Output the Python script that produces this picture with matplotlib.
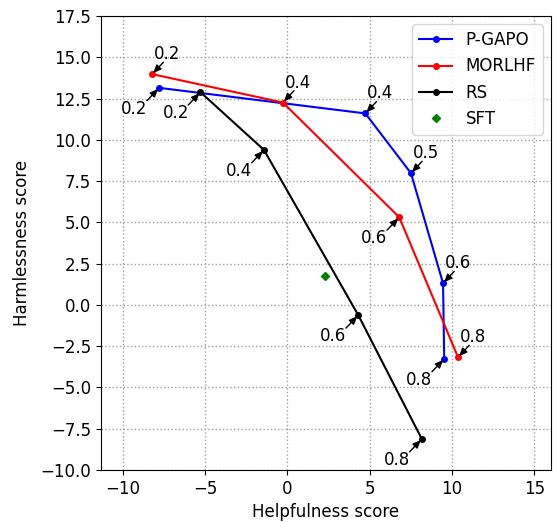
import matplotlib
matplotlib.use("Agg")
import matplotlib.pyplot as plt

# data
gapo_x = [-7.8, 4.73, 7.5, 9.45, 9.52]
gapo_y = [13.15, 11.6, 7.98, 1.31, -3.27]
gapo_lbl = ['0.2', '0.4', '0.5', '0.6', '0.8']
gapo_pos = ['ll', 'ur', 'ur', 'ur', 'll']

morl_x = [-8.22, -0.28, 6.79, 10.36]
morl_y = [13.98, 12.26, 5.31, -3.17]
morl_lbl = ['0.2', '0.4', '0.6', '0.8']
morl_pos = ['ur', 'ur', 'll', 'ur']

rs_x = [-5.29, -1.43, 4.3, 8.16]
rs_y = [12.89, 9.39, -0.62, -8.12]
rs_lbl = ['0.2', '0.4', '0.6', '0.8']
rs_pos = ['ll', 'll', 'll', 'll']

sft_x = [2.26]
sft_y = [1.78]

# label offset (pixels) and where the arrow leaves the label
offsets = {'ur': (2, 15), 'll': (-38, -26)}
relpos = {'ur': (0.35, 0.05), 'll': (0.98, 0.95)}

fig = plt.figure(figsize=(5.57, 5.22), dpi=100)
ax = fig.add_axes([0.1813, 0.0996, 0.8077, 0.8697])

ax.plot(gapo_x, gapo_y, 'o-', color='blue', markersize=4, label='P-GAPO')
ax.plot(morl_x, morl_y, 'o-', color='red', markersize=4, label='MORLHF')
ax.plot(rs_x, rs_y, 'o-', color='black', markersize=4, label='RS')
ax.plot(sft_x, sft_y, 'D', color='green', markersize=4, linestyle='none', label='SFT')

for xs, ys, lbls, pos in [(gapo_x, gapo_y, gapo_lbl, gapo_pos),
                          (morl_x, morl_y, morl_lbl, morl_pos),
                          (rs_x, rs_y, rs_lbl, rs_pos)]:
    for x, y, t, p in zip(xs, ys, lbls, pos):
        ax.annotate(t, (x, y), xytext=offsets[p], textcoords='offset pixels',
                    fontsize=12,
                    arrowprops=dict(arrowstyle='-|>,head_length=0.4,head_width=0.17',
                                    color='black', lw=1, relpos=relpos[p],
                                    patchA=None, shrinkA=0, shrinkB=1))

ax.set_xlim(-11.33, 16)
ax.set_ylim(-10, 17.5)
ax.set_xticks([-10, -5, 0, 5, 10, 15])
ax.set_yticks([-10 + 2.5 * i for i in range(12)])
ax.tick_params(labelsize=12)
ax.grid(True, linestyle=':', color='#a0a0a0', lw=1)
ax.set_xlabel('Helpfulness score', fontsize=12)
ax.set_ylabel('Harmlessness score', fontsize=12, labelpad=7)
ax.legend(loc='upper right', fontsize=12)

fig.savefig('out.png', dpi=100)
